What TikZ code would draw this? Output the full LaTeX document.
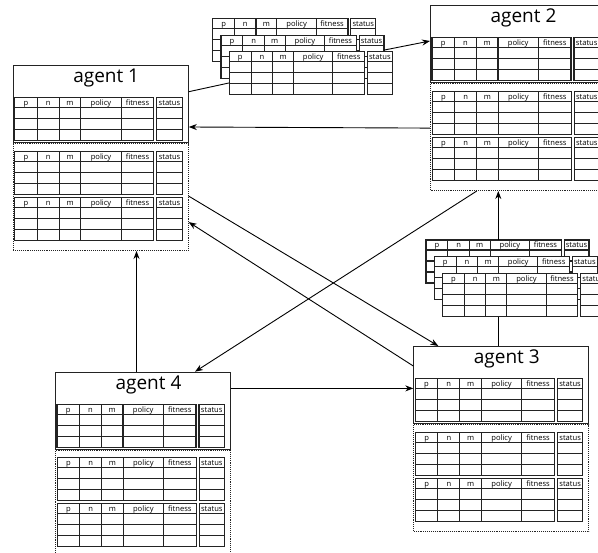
\documentclass[tikz,border=0pt]{standalone}
\usepackage{fontspec}
\setmainfont{Open Sans}
\usetikzlibrary{arrows.meta, positioning, calc}
\definecolor{gridgray}{RGB}{35,35,35}

\tikzset{
  gridline/.style={line width=1.1pt, gridgray},
  cellfont/.style={font=\fontsize{7.6}{9}\selectfont, inner sep=0pt, anchor=base},
  agentbox/.style={draw, line width=1.1pt, gridgray, minimum width=175pt, minimum height=77pt, inner sep=0pt, anchor=north west},
  histbox/.style={draw, densely dotted, line width=0.9pt, gridgray, minimum width=175pt, minimum height=107pt, inner sep=0pt},
  agenttitle/.style={font=\fontsize{19}{22}\selectfont, inner sep=0pt, anchor=base},
  flow/.style={-{Stealth[length=8pt,width=6pt]}, line width=0.9pt},
  link/.style={line width=0.9pt},
  pics/qtable/.style={code={
    % cells of one table
    \fill[white] (0,0) rectangle (139,43);
    \fill[white] (142,0) rectangle (167.5,43);
    \foreach \y in {10,21,32}
      \draw[gridline] (0,\y) -- (139,\y) (142,\y) -- (167.5,\y);
    \foreach \x in {22.5,44.5,66,106.5}
      \draw[gridline] (\x,0) -- (\x,43);
    \draw[gridline] (0,0) rectangle (139,43) (142,0) rectangle (167.5,43);
    \foreach \x/\t [count=\i] in {11.25/p, 33.5/n, 55.25/m, 86.25/policy, 122.75/fitness, 154.75/status}
      \node[cellfont] (-h\i) at (\x,8) {\t};
    \coordinate (-nw) at (0,0);
    \coordinate (-se) at (167.5,43);
  }}
}

\begin{document}
\begin{tikzpicture}[x=1pt, y=-1pt]
\useasboundingbox (0,0) rectangle (598,553);
\clip (0,0) rectangle (598,553);

% Message stacks
\foreach \s/\x/\y in {q1/212.7/18.3, q2/426/240} {
    \foreach \j [count=\k from 0] in {a,b,c}
        \pic[xscale=0.973] (\s\j) at ({\x+8.3*\k},{\y+16.8*\k}) {qtable};
}

% Agents with their tables
\foreach \a/\x/\y/\n in {a1/12.7/65/1, a2/430/5/2, a3/413.3/346/3, a4/55/371.7/4} {
    \node[agentbox] (\a) at (\x,\y) {};
    \node[histbox, below=0pt of \a] (\a h) {};
    \node[agenttitle] (\a title) at ($(\a.north west)+(93.5,17.7)$) {agent \n};
    \pic (\a t1) at ($(\a.north west)+(2,32.5)$) {qtable};
    \pic (\a t2) at ($(\a h.north west)+(2,8)$) {qtable};
    \pic (\a t3) at ($(\a h.north west)+(2,54)$) {qtable};
}

% Connectors
\draw[link] ($(a1.north east)+(0,26.7)$) -- ($(q1c-nw)+(0,31)$);
\draw[flow] ($(q1b-nw)+(163,15)$) -- ($(a2.north west)+(0,36)$);
\draw[flow] ($(a2h.north west)+(0,45)$) -- ($(a1.north east)+(0,62)$);
\draw[flow] ($(a1h.north east)+(0,53)$) -- ($(a3.north west)+(25,0)$);
\draw[flow] ($(a3.north west)+(0,20)$) -- ($(a1h.north east)+(0,79)$);
\coordinate (q2top) at ($(q2a-nw)+(72.3,0)$);
\draw[flow] (q2top) -- (q2top |- a2h.south);
\coordinate (q2bot) at ($(q2c-nw)+(55.6,43)$);
\draw[link] (q2bot) -- (q2bot |- a3.north);
\draw[flow] ($(a2h.south west)+(46.7,0)$) -- ($(a4.north west)+(140,0)$);
\coordinate (a4up) at ($(a4.north west)+(81.5,0)$);
\draw[flow] (a4up) -- (a4up |- a1h.south);
\coordinate (a4out) at ($(a4.north east)+(0,16.7)$);
\draw[flow] (a4out) -- (a4out -| a3.west);
\end{tikzpicture}
\end{document}
